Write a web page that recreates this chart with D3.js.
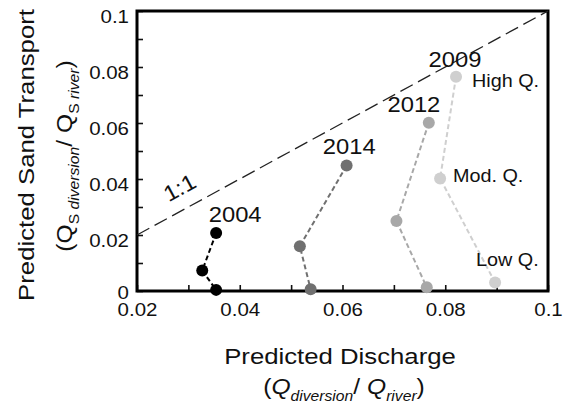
<!DOCTYPE html>
<html>
<head>
<meta charset="utf-8">
<script src="https://cdn.jsdelivr.net/npm/d3@7"></script>
<style>
  body { margin: 0; background: #fff; }
  text { font-family: "Liberation Sans", Arial, sans-serif; fill: #111; }
</style>
</head>
<body>
<div id="chart"></div>
<script>
// axis ticks
var xTicks = [0.02, 0.03, 0.04, 0.05, 0.06, 0.07, 0.08, 0.09, 0.1];
var yTicks = [0, 0.01, 0.02, 0.03, 0.04, 0.05, 0.06, 0.07, 0.08, 0.09, 0.1];

// series: High Q., Mod. Q., Low Q.
var years = ["2004", "2014", "2012", "2009"];
var colors = ["#000000", "#707070", "#a8a8a8", "#cfcfcf"];
var discharge2004 = [0.0354, 0.0327, 0.0354];
var sand2004      = [0.0207, 0.0073, 0.0004];
var discharge2014 = [0.0608, 0.0517, 0.0538];
var sand2014      = [0.0448, 0.0160, 0.0006];
var discharge2012 = [0.0768, 0.0705, 0.0764];
var sand2012      = [0.0601, 0.0250, 0.0013];
var discharge2009 = [0.0821, 0.0790, 0.0897];
var sand2009      = [0.0765, 0.0402, 0.0030];

// label anchors (data units)
var yearLabelX = [0.0391, 0.0613, 0.0739, 0.0819];
var yearLabelY = [0.0246, 0.0489, 0.0639, 0.0800];
var flowLabels = ["High Q.", "Mod. Q.", "Low Q."];
var flowLabelX = [0.0852, 0.0815, 0.0860];
var flowLabelY = [0.0729, 0.0389, 0.0089];

var series = [
  {year: years[0], color: colors[0], x: discharge2004, y: sand2004},
  {year: years[1], color: colors[1], x: discharge2014, y: sand2014},
  {year: years[2], color: colors[2], x: discharge2012, y: sand2012},
  {year: years[3], color: colors[3], x: discharge2009, y: sand2009}
];

var W = 571, H = 407;
var margin = {top: 11, right: 23, bottom: 116, left: 137};
var width = W - margin.left - margin.right;
var height = H - margin.top - margin.bottom;

var svg = d3.select("#chart").append("svg")
    .attr("width", W)
    .attr("height", H);
svg.append("rect").attr("width", W).attr("height", H).attr("fill", "#fff");

var g = svg.append("g")
    .attr("transform", "translate(" + margin.left + "," + margin.top + ")");

var x = d3.scaleLinear().domain([0.02, 0.1]).range([0, width]);
var y = d3.scaleLinear().domain([0, 0.1]).range([height, 0]);

var SX = 1.17; // horizontal stretch of the original lettering

function fmt(v) {
  var r = Math.round(v * 100);
  if (r % 2 !== 0) return "";
  return r === 0 ? "0" : String(+v.toFixed(2));
}

// stretched text helper
function stretched(parent, tx, ty, rot, sx, anchor, parts) {
  var t = parent.append("g")
      .attr("transform", "translate(" + tx + "," + ty + ") rotate(" + rot + ") scale(" + sx + ",1)")
    .append("text")
      .attr("text-anchor", anchor);
  parts.forEach(function(p) {
    t.append("tspan")
      .attr("font-size", p.size)
      .attr("font-style", p.italic ? "italic" : "normal")
      .attr("dy", p.dy || 0)
      .text(p.text);
  });
  return t;
}

// axes
var yAxis = g.append("g")
    .call(d3.axisLeft(y).tickValues(yTicks).tickSize(-6).tickPadding(8).tickFormat(fmt));
var xAxis = g.append("g")
    .attr("transform", "translate(0," + height + ")")
    .call(d3.axisBottom(x).tickValues(xTicks).tickSize(-6).tickPadding(13).tickFormat(fmt));

[xAxis, yAxis].forEach(function(a) {
  a.select(".domain").remove();
  a.selectAll(".tick line").attr("stroke", "#111").attr("stroke-width", 1.6);
  a.selectAll(".tick text")
    .attr("font-size", 17.5)
    .attr("font-family", "Liberation Sans, Arial, sans-serif")
    .attr("fill", "#111")
    .attr("transform", "scale(" + SX + ",1)");
});
yAxis.selectAll(".tick text")
    .attr("dy", function(d) { return d === 0 ? "0.4em" : "0.63em"; })
    .attr("x", -8 / SX);

// frame
g.append("rect")
    .attr("width", width)
    .attr("height", height)
    .attr("fill", "none")
    .attr("stroke", "#000")
    .attr("stroke-width", 3);

// 1:1 line
g.append("line")
    .attr("x1", x(0.02)).attr("y1", y(0.02))
    .attr("x2", x(0.1)).attr("y2", y(0.1))
    .attr("stroke", "#222")
    .attr("stroke-width", 1.3)
    .attr("stroke-dasharray", "14,6");

var angle = Math.atan2(y(0.1) - y(0.02), x(0.1) - x(0.02)) * 180 / Math.PI;
stretched(g, x(0.0290), y(0.0345), angle, 1.08, "middle",
  [{text: "1:1", size: 22}]);

// series lines and points
var line = d3.line().x(function(d) { return x(d[0]); }).y(function(d) { return y(d[1]); });

series.forEach(function(s) {
  var pts = s.x.map(function(v, i) { return [v, s.y[i]]; });
  g.append("path")
      .attr("d", line(pts))
      .attr("fill", "none")
      .attr("stroke", s.color)
      .attr("stroke-width", 2)
      .attr("stroke-dasharray", "5,3");
});
series.forEach(function(s) {
  var pts = s.x.map(function(v, i) { return [v, s.y[i]]; });
  g.selectAll(null).data(pts).enter().append("circle")
      .attr("cx", function(d) { return x(d[0]); })
      .attr("cy", function(d) { return y(d[1]); })
      .attr("r", 6)
      .attr("fill", s.color);
});

// year labels
years.forEach(function(yr, i) {
  stretched(g, x(yearLabelX[i]), y(yearLabelY[i]), 0, 1.08, "middle",
    [{text: yr, size: 22}]);
});

// flow labels
flowLabels.forEach(function(lbl, i) {
  stretched(g, x(flowLabelX[i]), y(flowLabelY[i]), 0, 1.1, "start",
    [{text: lbl, size: 18}]);
});

// axis titles
stretched(svg, 340, 364, 0, SX, "middle", [{text: "Predicted Discharge", size: 22}]);
stretched(svg, 344, 394, 0, 1.12, "middle", [
  {text: "(", size: 22},
  {text: "Q", size: 22, italic: true},
  {text: "diversion", size: 14, italic: true, dy: 7},
  {text: "/ ", size: 22, dy: -7},
  {text: "Q", size: 22, italic: true},
  {text: "river", size: 14, italic: true, dy: 7},
  {text: ")", size: 22, dy: -7}
]);

stretched(svg, 34, 155, -90, SX, "middle", [{text: "Predicted Sand Transport", size: 22}]);
stretched(svg, 72, 156, -90, 1.12, "middle", [
  {text: "(", size: 22},
  {text: "Q", size: 22},
  {text: "S ", size: 14, dy: 7},
  {text: "diversion", size: 14, italic: true},
  {text: "/ ", size: 22, dy: -7},
  {text: "Q", size: 22},
  {text: "S ", size: 14, dy: 7},
  {text: "river", size: 14, italic: true},
  {text: ")", size: 22, dy: -7}
]);
</script>
</body>
</html>
